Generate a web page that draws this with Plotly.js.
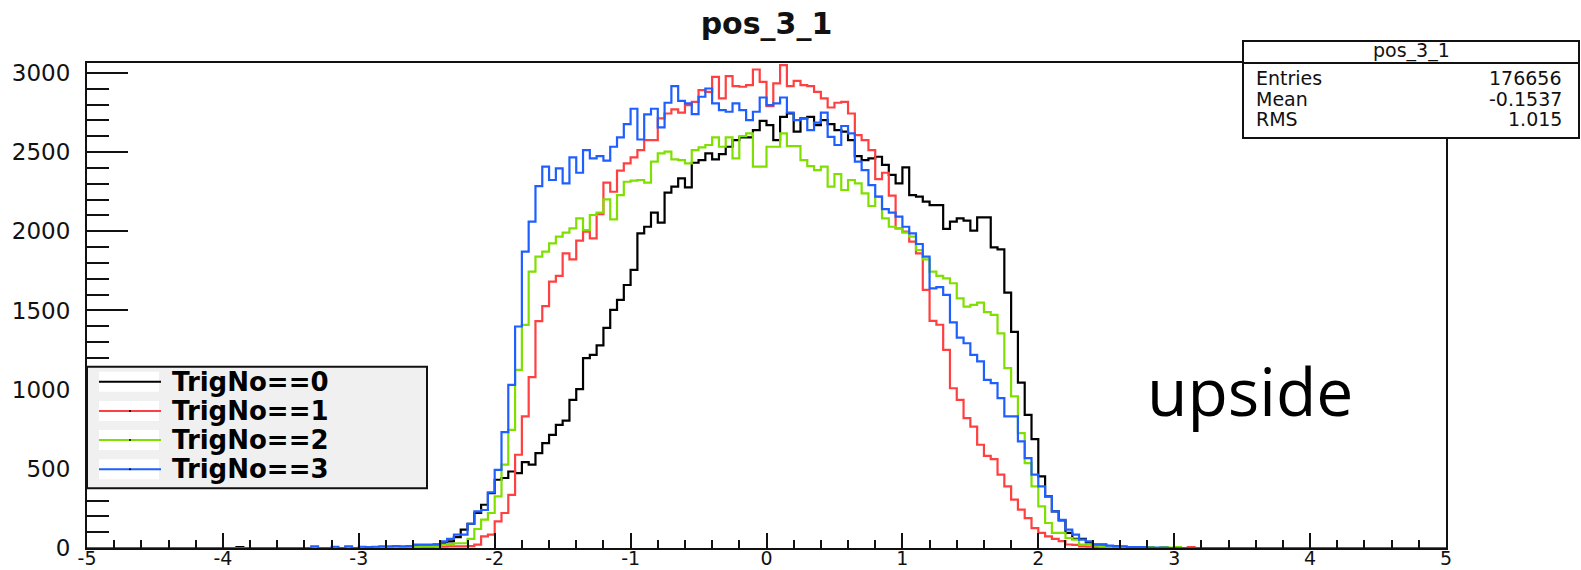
<!DOCTYPE html>
<html>
<head>
<meta charset="utf-8">
<script src="https://cdn.plot.ly/plotly-3.0.1.min.js"></script>
<style>
  html, body { margin: 0; padding: 0; background: #ffffff; }
  #chart { width: 1581px; height: 570px; }
</style>
</head>
<body>
<div id="chart"></div>
<script>
// Histogram definition: 200 bins from -5 to 5
const histMin = -5;
const histMax = 5;
const nBins = 200;

// Bin contents (bin 0 .. bin 199)
const trig0 = [
  0,0,0,0,0,0,0,0,0,0,
  0,0,0,0,0,0,0,0,0,0,
  0,0,6,0,0,0,0,0,0,0,
  0,0,0,0,0,0,0,0,0,0,
  0,3,0,5,3,5,5,8,10,12,
  15,21,30,42,69,116,153,221,273,347,
  431,442,483,473,542,526,599,662,715,778,
  805,936,1003,1199,1220,1280,1390,1504,1567,1661,
  1756,1987,2029,2118,2055,2244,2282,2334,2278,2433,
  2450,2492,2454,2488,2534,2576,2593,2593,2639,2698,
  2671,2576,2723,2744,2629,2713,2723,2671,2702,2677,
  2639,2629,2576,2475,2450,2461,2471,2419,2356,2303,
  2404,2229,2219,2187,2166,2166,2015,2061,2082,2067,
  2004,2088,2088,1899,1886,1613,1365,1045,841,688,
  452,326,231,174,95,58,58,36,21,21,
  10,10,8,5,5,3,0,0,3,0,
  0,0,0,0,0,0,0,0,0,0,
  0,0,0,0,0,0,0,0,0,0,
  0,0,0,0,0,0,0,0,0,0,
  0,0,0,0,0,0,0,0,0,0
];
const trig1 = [
  0,0,0,0,0,0,0,0,0,0,
  0,0,0,0,0,0,0,0,0,0,
  0,0,0,0,0,0,0,0,0,0,
  0,0,0,0,0,0,0,0,0,0,
  0,0,3,0,5,3,2,3,3,5,
  5,8,8,10,10,10,12,21,74,84,
  168,221,336,589,831,1079,1433,1528,1682,1718,
  1861,1823,1941,1998,1956,2109,2307,2250,2383,2429,
  2467,2513,2576,2576,2713,2744,2770,2749,2797,2818,
  2892,2881,2976,2839,2980,2917,2913,2923,3022,2944,
  2791,2934,3049,2917,2950,2923,2917,2881,2839,2782,
  2812,2818,2744,2608,2576,2513,2330,2370,2225,2019,
  1998,1935,1861,1630,1435,1410,1251,1009,936,820,
  767,652,582,561,463,389,305,242,189,126,
  95,74,58,43,22,20,10,8,5,5,
  3,3,5,0,0,3,0,0,0,0,
  3,0,5,0,0,0,0,0,0,0,
  0,0,0,0,0,0,0,0,0,0,
  0,0,0,0,0,0,0,0,0,0,
  0,0,0,0,0,0,0,0,0,0
];
const trig2 = [
  0,0,0,0,0,0,0,0,0,0,
  0,0,0,0,0,0,0,0,0,0,
  0,0,0,0,0,0,0,0,0,0,
  0,0,0,0,0,0,0,0,0,0,
  0,3,5,3,5,5,5,8,8,10,
  10,12,21,25,30,30,57,120,179,221,
  326,526,746,1125,1409,1746,1840,1872,1924,1966,
  1992,2019,2082,2008,2103,2118,2202,2076,2229,2313,
  2320,2324,2307,2440,2492,2503,2454,2450,2429,2513,
  2530,2545,2593,2534,2593,2461,2601,2618,2408,2408,
  2534,2534,2618,2538,2538,2450,2412,2387,2408,2282,
  2362,2261,2324,2303,2240,2160,2219,2082,2029,2020,
  1992,1966,1882,1823,1746,1718,1703,1672,1577,1525,
  1535,1550,1490,1472,1356,1136,957,725,536,389,
  263,158,95,95,63,53,21,21,15,10,
  8,5,5,3,0,3,5,0,5,3,
  5,0,0,0,0,0,0,0,0,0,
  0,0,0,0,0,0,0,0,0,0,
  0,0,0,0,0,0,0,0,0,0,
  0,0,0,0,0,0,0,0,0,0
];
const trig3 = [
  0,0,0,0,0,0,0,0,0,0,
  0,0,0,0,0,0,0,0,0,0,
  0,0,0,0,0,0,0,0,0,0,
  0,0,0,10,0,0,8,0,10,0,
  8,5,8,10,10,12,10,12,21,21,
  21,21,42,57,84,84,153,231,240,351,
  494,732,1030,1399,1872,2061,2286,2408,2324,2397,
  2303,2467,2370,2513,2461,2475,2446,2534,2593,2677,
  2774,2580,2738,2774,2656,2812,2917,2824,2808,2740,
  2850,2902,2808,2765,2755,2808,2765,2702,2755,2845,
  2797,2808,2845,2749,2702,2713,2639,2686,2749,2597,
  2545,2665,2618,2440,2387,2292,2219,2140,2118,2093,
  2029,1987,1920,1840,1640,1647,1598,1425,1328,1293,
  1220,1178,1062,1041,946,831,831,673,568,463,
  389,326,231,178,116,84,53,42,21,21,
  15,10,10,6,5,5,3,3,3,0,
  0,0,0,0,0,0,0,0,0,0,
  0,0,0,0,0,0,0,0,0,0,
  0,0,0,0,0,0,0,0,0,0,
  0,0,0,0,0,0,0,0,0,0
];

const seriesNames = ['TrigNo==0', 'TrigNo==1', 'TrigNo==2', 'TrigNo==3'];
const xTickVals = [-5, -4, -3, -2, -1, 0, 1, 2, 3, 4, 5];
const xTickText = ['-5', '-4', '-3', '-2', '-1', '0', '1', '2', '3', '4', '5'];
const statsTitle = 'pos_3_1';
const statsLabels = ['Entries', 'Mean', 'RMS'];
const statsValues = ['176656', '-0.1537', '1.015'];
const chartTitle = 'pos_3_1';
const sideNote = 'upside';

// ---- drawing ----
const colors = ['#000000', '#ff4040', '#7fe000', '#1f5fff'];
const seriesData = [trig0, trig1, trig2, trig3];

// bin edges (x of each step start) + final edge
const edges = [];
for (let k = 0; k <= nBins; k++) edges.push(histMin + (histMax - histMin) * k / nBins);

const traces = seriesData.map((vals, i) => ({
  type: 'scatter',
  mode: 'lines',
  name: seriesNames[i],
  x: edges,
  y: vals.concat([vals[vals.length - 1]]),
  line: { shape: 'hv', color: colors[i], width: 2.2 },
  showlegend: false,
  hoverinfo: 'skip'
}));

const W = 1581, H = 570;
const M = { l: 87, r: 135, t: 63, b: 22 };
const pw = W - M.l - M.r, ph = H - M.t - M.b;
const px = x => (x - M.l) / pw;          // pixel x -> paper
const py = y => (H - M.b - y) / ph;       // pixel y -> paper

const shapes = [];
const annotations = [];

// Stats box
shapes.push({ type: 'rect', xref: 'paper', yref: 'paper', layer: 'above',
  x0: px(1243), x1: px(1579), y0: py(41), y1: py(138),
  fillcolor: '#ffffff', line: { color: '#111111', width: 2 } });
shapes.push({ type: 'line', xref: 'paper', yref: 'paper', layer: 'above',
  x0: px(1243), x1: px(1579), y0: py(63), y1: py(63),
  line: { color: '#111111', width: 2 } });
annotations.push({ xref: 'paper', yref: 'paper', x: px(1411), y: py(50),
  text: statsTitle, showarrow: false, xanchor: 'center', yanchor: 'middle',
  font: { family: 'DejaVu Sans', size: 19, color: '#111111' } });
const statRows = [78, 99, 119];
statsLabels.forEach((lab, i) => {
  annotations.push({ xref: 'paper', yref: 'paper', x: px(1254), y: py(statRows[i]),
    text: lab, showarrow: false, xanchor: 'left', yanchor: 'middle',
    font: { family: 'DejaVu Sans', size: 19, color: '#111111' } });
  annotations.push({ xref: 'paper', yref: 'paper', x: px(1564), y: py(statRows[i]),
    text: statsValues[i], showarrow: false, xanchor: 'right', yanchor: 'middle',
    font: { family: 'DejaVu Sans', size: 19, color: '#111111' } });
});

// Legend box
shapes.push({ type: 'rect', xref: 'paper', yref: 'paper', layer: 'above',
  x0: px(87), x1: px(427), y0: py(366.7), y1: py(488.3),
  fillcolor: '#f0f0f0', line: { color: '#111111', width: 2 } });
const legRows = [381.7, 411, 440, 469.3];
seriesNames.forEach((nm, i) => {
  const yy = legRows[i];
  shapes.push({ type: 'rect', xref: 'paper', yref: 'paper', layer: 'above',
    x0: px(99), x1: px(159), y0: py(yy - 10), y1: py(yy + 10),
    fillcolor: '#ffffff', line: { width: 0 } });
  shapes.push({ type: 'line', xref: 'paper', yref: 'paper', layer: 'above',
    x0: px(99), x1: px(161), y0: py(yy), y1: py(yy),
    line: { color: colors[i], width: 2 } });
  if (i > 0) {
    shapes.push({ type: 'circle', xref: 'paper', yref: 'paper', layer: 'above',
      x0: px(129), x1: px(131), y0: py(yy - 1), y1: py(yy + 1),
      fillcolor: '#000000', line: { width: 0 } });
  }
  annotations.push({ xref: 'paper', yref: 'paper', x: px(170), y: py(yy),
    text: '<b>' + nm + '</b>', showarrow: false, xanchor: 'left', yanchor: 'middle',
    font: { family: 'DejaVu Sans', size: 26, color: '#000000' } });
});

// Side note
annotations.push({ xref: 'paper', yref: 'paper', x: px(1250), y: py(390),
  text: sideNote, showarrow: false, xanchor: 'center', yanchor: 'middle',
  font: { family: 'Open Sans', size: 66, color: '#000000' } });

const layout = {
  width: W, height: H,
  margin: M,
  paper_bgcolor: '#ffffff',
  plot_bgcolor: '#ffffff',
  showlegend: false,
  title: { text: '<b>' + chartTitle + '</b>', xref: 'paper', x: 0.5, xanchor: 'center',
    yref: 'container', y: 1 - 23 / H, yanchor: 'middle',
    font: { family: 'DejaVu Sans', size: 30, color: '#111111' } },
  xaxis: {
    range: [histMin, histMax], autorange: false, automargin: false,
    showgrid: false, zeroline: false,
    showline: true, linecolor: '#111111', linewidth: 2, mirror: true,
    ticks: 'inside', ticklen: 15, tickwidth: 2, tickcolor: '#111111',
    tickmode: 'array', tickvals: xTickVals, ticktext: xTickText,
    minor: { tickmode: 'linear', dtick: 0.2, tick0: 0, ticks: 'inside', ticklen: 8, tickwidth: 2, tickcolor: '#111111', showgrid: false },
    tickfont: { family: 'DejaVu Sans', size: 19, color: '#111111' },
    ticklabelstandoff: -8
  },
  yaxis: {
    range: [0, 3063], autorange: false, automargin: false,
    showgrid: false, zeroline: false,
    showline: true, linecolor: '#111111', linewidth: 2, mirror: true,
    ticks: 'inside', ticklen: 41, tickwidth: 2, tickcolor: '#111111',
    dtick: 500, tick0: 0,
    minor: { dtick: 100, tick0: 0, ticks: 'inside', ticklen: 22, tickwidth: 2, tickcolor: '#111111', showgrid: false },
    tickfont: { family: 'DejaVu Sans', size: 23, color: '#111111' },
    ticklabelstandoff: 10
  },
  shapes: shapes,
  annotations: annotations
};

Plotly.newPlot('chart', traces, layout, { staticPlot: true, displayModeBar: false });
</script>
</body>
</html>
